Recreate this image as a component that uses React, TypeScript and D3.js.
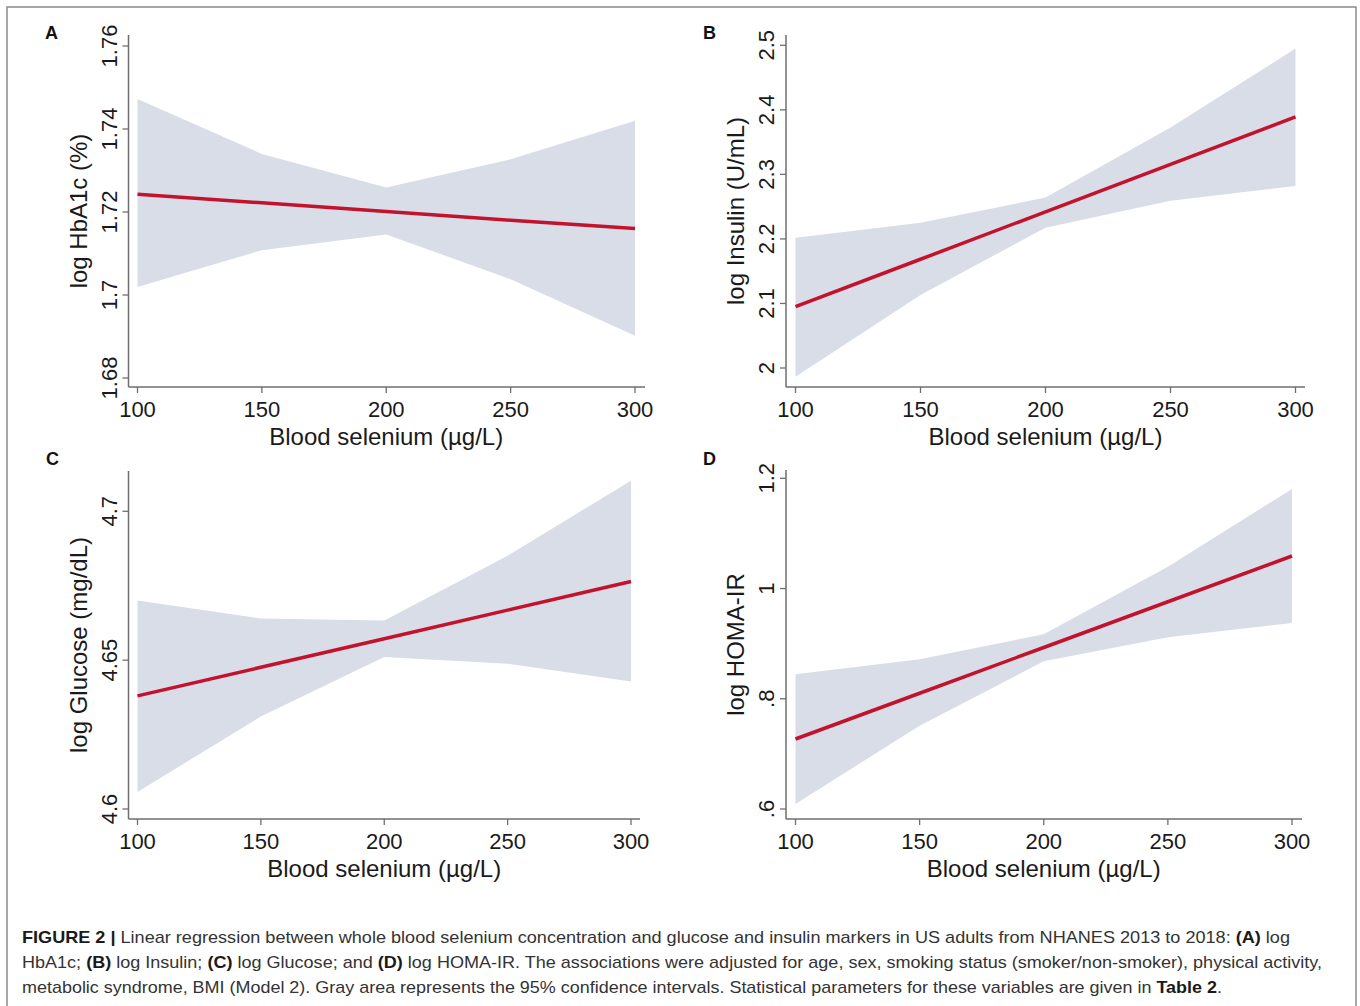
import React from "react";
import * as d3 from "d3";

// blood selenium values (µg/L) the fits are read at
const selenium = [100, 150, 200, 250, 300];
const xTicks = [100, 150, 200, 250, 300];

// A: log HbA1c
const hba1cFit = [1.7243, 1.7222, 1.7201, 1.718, 1.716];
const hba1cLower = [1.7019, 1.7108, 1.7146, 1.7038, 1.6902];
const hba1cUpper = [1.7472, 1.734, 1.7259, 1.7327, 1.742];
const hba1cTicks = [1.68, 1.7, 1.72, 1.74, 1.76];
const hba1cTickLabels = ["1.68", "1.7", "1.72", "1.74", "1.76"];

// B: log Insulin
const insulinFit = [2.095, 2.1685, 2.242, 2.3155, 2.389];
const insulinLower = [1.9865, 2.113, 2.2175, 2.259, 2.282];
const insulinUpper = [2.202, 2.225, 2.264, 2.3725, 2.495];
const insulinTicks = [2, 2.1, 2.2, 2.3, 2.4, 2.5];
const insulinTickLabels = ["2", "2.1", "2.2", "2.3", "2.4", "2.5"];

// C: log Glucose
const glucoseFit = [4.638, 4.6476, 4.6572, 4.6668, 4.6764];
const glucoseLower = [4.6057, 4.6311, 4.6511, 4.6488, 4.6428];
const glucoseUpper = [4.67, 4.664, 4.6633, 4.6851, 4.7103];
const glucoseTicks = [4.6, 4.65, 4.7];
const glucoseTickLabels = ["4.6", "4.65", "4.7"];

// D: log HOMA-IR
const homaFit = [0.727, 0.81, 0.893, 0.976, 1.059];
const homaLower = [0.609, 0.7512, 0.868, 0.9116, 0.9376];
const homaUpper = [0.8445, 0.8717, 0.917, 1.0397, 1.1808];
const homaTicks = [0.6, 0.8, 1, 1.2];
const homaTickLabels = [".6", ".8", "1", "1.2"];

const FONT = "'Liberation Sans', Arial, Helvetica, sans-serif";
const AXIS = "#6e6e6e";
const BAND = "#d9dde7";
const RED = "#c3122e";

type PanelProps = {
  letter: string;
  yTitle: string;
  fit: number[];
  lower: number[];
  upper: number[];
  yDomain: [number, number];
  yTicks: number[];
  yTickLabels: string[];
  // layout
  axisX: number;
  axisTop: number;
  axisY: number;
  axisRight: number;
  xRange: [number, number];
  yRange: [number, number];
  letterPos: [number, number];
};

const Panel = (p: PanelProps) => {
  const x = d3.scaleLinear().domain([100, 300]).range(p.xRange);
  const y = d3.scaleLinear().domain(p.yDomain).range(p.yRange);

  const rows = selenium.map((s, i) => ({ s, fit: p.fit[i], lo: p.lower[i], hi: p.upper[i] }));

  const area = d3
    .area<any>()
    .x((d) => x(d.s))
    .y0((d) => y(d.lo))
    .y1((d) => y(d.hi));
  const line = d3
    .line<any>()
    .x((d) => x(d.s))
    .y((d) => y(d.fit));

  const midY = (p.axisTop + p.axisY) / 2;
  const midX = (p.xRange[0] + p.xRange[1]) / 2;

  return (
    <g>
      <text
        x={p.letterPos[0]}
        y={p.letterPos[1]}
        fontFamily={FONT}
        fontWeight="bold"
        fontSize={18}
        fill="#111"
      >
        {p.letter}
      </text>

      <path d={area(rows) || ""} fill={BAND} />
      <path d={line(rows) || ""} fill="none" stroke={RED} strokeWidth={3.5} />

      {/* y axis */}
      <line x1={p.axisX} x2={p.axisX} y1={p.axisTop} y2={p.axisY} stroke={AXIS} strokeWidth={1.5} />
      {p.yTicks.map((t, i) => (
        <g key={"y" + i}>
          <line x1={p.axisX - 6} x2={p.axisX} y1={y(t)} y2={y(t)} stroke={AXIS} strokeWidth={1.3} />
          <text
            transform={`translate(${p.axisX - 12},${y(t)}) rotate(-90)`}
            textAnchor="middle"
            fontFamily={FONT}
            fontSize={22}
            fill="#1a1a1a"
          >
            {p.yTickLabels[i]}
          </text>
        </g>
      ))}
      <text
        transform={`translate(${p.axisX - 42},${midY}) rotate(-90)`}
        textAnchor="middle"
        fontFamily={FONT}
        fontSize={24}
        fill="#1a1a1a"
      >
        {p.yTitle}
      </text>

      {/* x axis */}
      <line x1={p.axisX} x2={p.axisRight} y1={p.axisY} y2={p.axisY} stroke={AXIS} strokeWidth={1.5} />
      {xTicks.map((t) => (
        <g key={"x" + t}>
          <line x1={x(t)} x2={x(t)} y1={p.axisY} y2={p.axisY + 6} stroke={AXIS} strokeWidth={1.3} />
          <text
            x={x(t)}
            y={p.axisY + 30}
            textAnchor="middle"
            fontFamily={FONT}
            fontSize={22}
            fill="#1a1a1a"
          >
            {t}
          </text>
        </g>
      ))}
      <text
        x={midX}
        y={p.axisY + 58}
        textAnchor="middle"
        fontFamily={FONT}
        fontSize={24}
        fill="#1a1a1a"
      >
        Blood selenium (µg/L)
      </text>
    </g>
  );
};

const captionLines = [
  [
    { t: "FIGURE 2 | ", b: true },
    { t: "Linear regression between whole blood selenium concentration and glucose and insulin markers in US adults from NHANES 2013 to 2018: ", b: false },
    { t: "(A)", b: true },
    { t: " log", b: false },
  ],
  [
    { t: "HbA1c; ", b: false },
    { t: "(B)", b: true },
    { t: " log Insulin; ", b: false },
    { t: "(C)", b: true },
    { t: " log Glucose; and ", b: false },
    { t: "(D)", b: true },
    { t: " log HOMA-IR. The associations were adjusted for age, sex, smoking status (smoker/non-smoker), physical activity,", b: false },
  ],
  [
    { t: "metabolic syndrome, BMI (Model 2). Gray area represents the 95% confidence intervals. Statistical parameters for these variables are given in ", b: false },
    { t: "Table 2", b: true },
    { t: ".", b: false },
  ],
];
const captionWidths = [1268, 1300, 1200];

const App = () => {
  return (
    <svg
      width={1360}
      height={1006}
      style={{ position: "absolute", left: 0, top: 0, background: "#fff" }}
    >
      <rect x={0} y={0} width={1360} height={1006} fill="#fff" />
      <path d="M7,1010 V7 H1356 V1010" fill="none" stroke="#8a8a8a" strokeWidth={1.5} />

      <Panel
        letter="A"
        yTitle="log HbA1c (%)"
        fit={hba1cFit}
        lower={hba1cLower}
        upper={hba1cUpper}
        yDomain={[1.68, 1.76]}
        yTicks={hba1cTicks}
        yTickLabels={hba1cTickLabels}
        axisX={128.5}
        axisTop={35}
        axisY={387}
        axisRight={645}
        xRange={[137.5, 635]}
        yRange={[378, 46]}
        letterPos={[45, 39]}
      />
      <Panel
        letter="B"
        yTitle="log Insulin (U/mL)"
        fit={insulinFit}
        lower={insulinLower}
        upper={insulinUpper}
        yDomain={[2, 2.5]}
        yTicks={insulinTicks}
        yTickLabels={insulinTickLabels}
        axisX={786}
        axisTop={35}
        axisY={387}
        axisRight={1305}
        xRange={[795.5, 1295.5]}
        yRange={[368, 45.3]}
        letterPos={[703, 39]}
      />
      <Panel
        letter="C"
        yTitle="log Glucose (mg/dL)"
        fit={glucoseFit}
        lower={glucoseLower}
        upper={glucoseUpper}
        yDomain={[4.6, 4.7]}
        yTicks={glucoseTicks}
        yTickLabels={glucoseTickLabels}
        axisX={128.5}
        axisTop={471}
        axisY={819}
        axisRight={640}
        xRange={[137.5, 631]}
        yRange={[809, 511.3]}
        letterPos={[46, 465]}
      />
      <Panel
        letter="D"
        yTitle="log HOMA-IR"
        fit={homaFit}
        lower={homaLower}
        upper={homaUpper}
        yDomain={[0.6, 1.2]}
        yTicks={homaTicks}
        yTickLabels={homaTickLabels}
        axisX={786}
        axisTop={470}
        axisY={819}
        axisRight={1302}
        xRange={[795.5, 1292]}
        yRange={[809, 478.3]}
        letterPos={[703, 465]}
      />

      {captionLines.map((ln, i) => (
        <text
          key={i}
          x={22}
          y={943 + i * 25}
          fontFamily={FONT}
          fontSize={17}
          fill="#333"
          textLength={captionWidths[i]}
          lengthAdjust="spacingAndGlyphs"
        >
          {ln.map((s, j) => (
            <tspan key={j} fontWeight={s.b ? "bold" : "normal"} fill={s.b ? "#1a1a1a" : "#333"}>
              {s.t}
            </tspan>
          ))}
        </text>
      ))}
    </svg>
  );
};

export default App;
